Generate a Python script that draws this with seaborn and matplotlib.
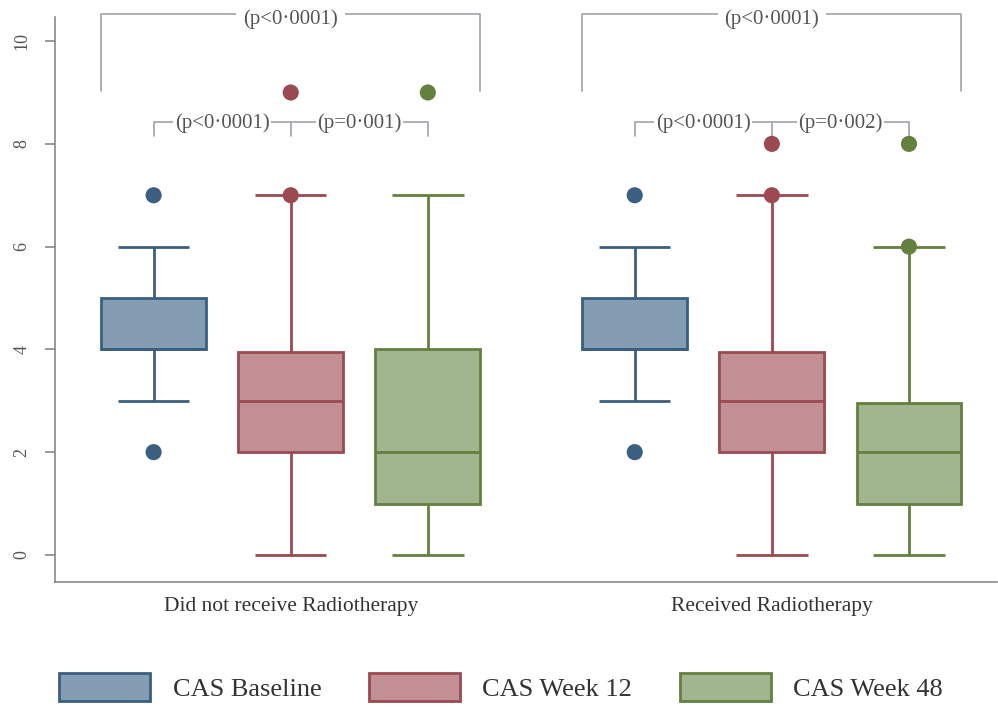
import numpy as np
import pandas as pd
import seaborn as sns
import matplotlib.pyplot as plt
from matplotlib.patches import Patch

# categories
groups = ["Did not receive Radiotherapy", "Received Radiotherapy"]
measures = ["CAS Baseline", "CAS Week 12", "CAS Week 48"]

# box summaries: lower whisker, Q1, median, Q3, upper whisker
no_rt_baseline = [3, 4, 4, 5, 6]
no_rt_week12 = [0, 2, 3, 3.95, 7]
no_rt_week48 = [0, 1, 2, 4, 7]
rt_baseline = [3, 4, 4, 5, 6]
rt_week12 = [0, 2, 3, 3.95, 7]
rt_week48 = [0, 1, 2, 2.95, 6]

# outlying points (dots)
no_rt_baseline_out = [2, 7]
no_rt_week12_out = [7, 9]
no_rt_week48_out = [9]
rt_baseline_out = [2, 7]
rt_week12_out = [7, 8]
rt_week48_out = [6, 8]

# p-values: baseline vs week 48, baseline vs week 12, week 12 vs week 48
no_rt_p = ["(p<0·0001)", "(p<0·0001)", "(p=0·001)"]
rt_p = ["(p<0·0001)", "(p<0·0001)", "(p=0·002)"]

fills = ["#849db3", "#c29094", "#a1b68f"]
edges = ["#3b5f80", "#9b4a52", "#63803f"]
bracket_col = "#a8a9b0"
axis_col = "#7f7f7f"

sns.set_theme(style="white")
plt.rcParams["font.family"] = ["Liberation Serif", "DejaVu Serif"]

summaries = {groups[0]: [no_rt_baseline, no_rt_week12, no_rt_week48],
             groups[1]: [rt_baseline, rt_week12, rt_week48]}
outliers = {groups[0]: [no_rt_baseline_out, no_rt_week12_out, no_rt_week48_out],
            groups[1]: [rt_baseline_out, rt_week12_out, rt_week48_out]}
pvals = {groups[0]: no_rt_p, groups[1]: rt_p}

rows = [(g, m, v) for g in groups for m, vals in zip(measures, summaries[g]) for v in vals]
df = pd.DataFrame(rows, columns=["group", "measure", "value"])

WIDTH, GAP = 0.855, 0.235
n = len(measures)
offsets = np.linspace(0, WIDTH - WIDTH / n, n) - (WIDTH - WIDTH / n) / 2
box_w = WIDTH / n * (1 - GAP)

out_rows = [(gi + offsets[mi], v, m) for gi, g in enumerate(groups)
            for mi, m in enumerate(measures) for v in outliers[g][mi]]
out_df = pd.DataFrame(out_rows, columns=["xpos", "value", "measure"])

fig = plt.figure(figsize=(9.98, 7.07), dpi=100)
ax = fig.add_axes([0.0551, 0.1768, 0.9439, 0.7992])

sns.boxplot(data=df, x="group", y="value", hue="measure", order=groups, hue_order=measures,
            palette=fills, saturation=1, width=WIDTH, gap=GAP, whis=(0, 100),
            showfliers=False, linewidth=2, legend=False, ax=ax)


def hue_index(xc):
    return int(np.argmin(np.abs(offsets - (xc - round(xc)))))


# per-box edge colours and wider caps, Stata-like
for p in ax.patches:
    xc = p.get_path().vertices[:, 0].mean()
    p.set_edgecolor(edges[hue_index(xc)])
for ln in ax.lines:
    xd = np.asarray(ln.get_xdata(), dtype=float)
    yd = np.asarray(ln.get_ydata(), dtype=float)
    xc = xd.mean()
    ln.set_color(edges[hue_index(xc)])
    ln.set_solid_capstyle("butt")
    if len(xd) == 2 and yd[0] == yd[1] and 0 < xd[1] - xd[0] < box_w * 0.8:
        half = box_w * 0.34
        ln.set_xdata([xc - half, xc + half])

sns.scatterplot(data=out_df, x="xpos", y="value", hue="measure", hue_order=measures,
                palette=edges, s=135, linewidth=0, legend=False, zorder=4, ax=ax)

# significance brackets
for gi, g in enumerate(groups):
    left = gi + offsets[0] - box_w / 2
    right = gi + offsets[-1] + box_w / 2
    ax.plot([left, left, right, right], [9.03, 10.52, 10.52, 9.03], color=bracket_col,
            lw=1.3, clip_on=False, zorder=1)
    ax.text(gi, 10.43, pvals[g][0], ha="center", va="center", fontsize=15, color="#555555",
            bbox=dict(facecolor="white", edgecolor="none", pad=5), clip_on=False, zorder=2)
    xs = [gi + o for o in offsets]
    ax.plot([xs[0], xs[0], xs[2], xs[2]], [8.15, 8.43, 8.43, 8.15], color=bracket_col,
            lw=1.3, zorder=1)
    ax.plot([xs[1], xs[1]], [8.43, 8.15], color=bracket_col, lw=1.3, zorder=1)
    for k in range(2):
        ax.text((xs[k] + xs[k + 1]) / 2, 8.40, pvals[g][k + 1], ha="center", va="center",
                fontsize=15, color="#555555",
                bbox=dict(facecolor="white", edgecolor="none", pad=1), zorder=2)

ax.set_xlim(-0.49, 1.468)
ax.set_ylim(-0.527, 10.47)
ax.set_yticks([0, 2, 4, 6, 8, 10])
ax.set_xticks([0, 1])
ax.set_xticklabels(groups)
ax.set_xlabel("")
ax.set_ylabel("")
sns.despine(ax=ax)
for s in ["left", "bottom"]:
    ax.spines[s].set_color(axis_col)
    ax.spines[s].set_linewidth(1.1)
ax.tick_params(axis="y", left=True, length=7.5, width=1.1, color=axis_col, pad=10,
               labelrotation=90, labelsize=13, labelcolor="#555555")
ax.tick_params(axis="x", bottom=False, pad=5, labelsize=15.5, labelcolor="#333333")
for t in ax.get_yticklabels():
    t.set_va("center")

handles = [Patch(facecolor=f, edgecolor=e, linewidth=2, label=m)
           for f, e, m in zip(fills, edges, measures)]
fig.legend(handles=handles, loc="center", bbox_to_anchor=(0.502, 0.028), ncol=3,
           frameon=False, fontsize=19, handlelength=3.45, handleheight=1.25,
           handletextpad=0.85, columnspacing=1.8, borderpad=0, labelcolor="#333333")

fig.savefig("out.png", dpi=100)
